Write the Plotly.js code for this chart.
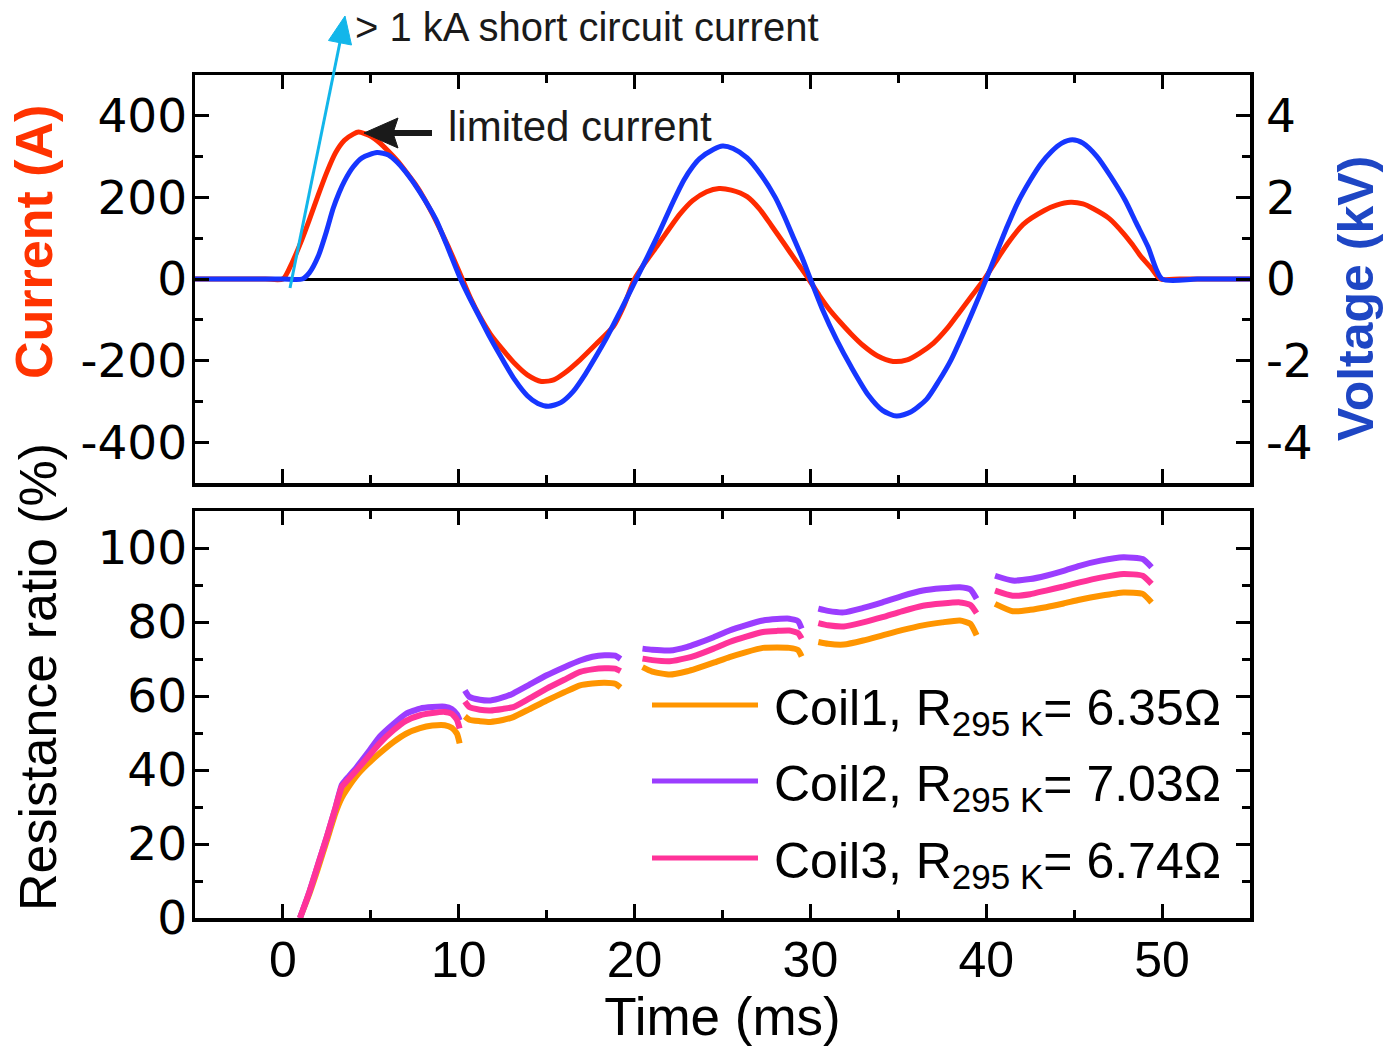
<!DOCTYPE html>
<html>
<head>
<meta charset="utf-8">
<script src="https://cdn.plot.ly/plotly-3.0.1.min.js"></script>
<style>html,body{margin:0;padding:0;background:#fff;}#chart{width:1386px;height:1050px;}</style>
</head>
<body>
<div id="chart"></div>
<script>
// ---------- Data ----------
// Top panel: current (A) vs time (ms)
const time_current = [-5, -3, -1, 0, 0.5, 1.0, 1.5, 2.0, 2.5, 3.0, 3.5, 4.0, 4.3, 5.0, 5.5, 6.0, 6.5, 7.0, 7.5, 8.0, 8.5, 9.0, 9.5, 10.2,
  10.7, 11.2, 11.8, 12.5, 13.2, 13.9, 14.7, 15.4, 16.0, 16.9, 17.8, 18.8, 19.4, 20.0,
  20.6, 21.3, 22.0, 22.6, 23.3, 24.1, 24.8, 25.5, 26.4, 27.1, 27.8, 28.5, 29.2, 29.9,
  30.5, 31.1, 31.7, 32.3, 33.0, 33.8, 34.7, 35.5, 36.2, 37.0, 37.8, 38.5, 39.2, 39.9,
  40.5, 41.2, 42.1, 43.3, 44.0, 44.8, 45.5, 46.1, 47.0, 47.8, 48.3, 48.8, 49.4, 49.9, 51, 53, 55];
const current_A = [0, 0, 0, 0, 38, 88, 145, 205, 262, 310, 340, 355, 360, 350, 334, 313, 290, 263, 234, 200, 160, 116, 70, 0,
  -50, -92, -135, -173, -208, -235, -251, -247, -231, -198, -160, -116, -65, 0,
  40, 82, 125, 160, 192, 214, 222, 218, 202, 172, 130, 87, 43, 0,
  -40, -76, -106, -134, -163, -188, -202, -198, -182, -157, -120, -80, -40, 0,
  40, 86, 134, 168, 181, 188, 184, 172, 148, 112, 85, 55, 26, 0, 0, 0, 0];

// Top panel: voltage (kV) vs time (ms)
const time_voltage = [-5, -2, 0, 1.1, 1.5, 2.0, 2.5, 2.85, 3.2, 3.5, 4.0, 4.5, 5.35, 6.0, 6.5, 7.2, 7.8, 8.7, 9.3, 10.1,
  10.6, 11.2, 11.8, 12.5, 13.2, 13.9, 14.5, 15.1, 15.8, 16.5, 17.2, 17.8, 18.4, 19.2, 20.1,
  20.7, 21.3, 22.2, 22.8, 23.3, 23.7, 24.5, 25.0, 25.6, 26.4, 27.2, 28.0, 28.5, 29.0, 29.5, 30.0,
  30.7, 31.5, 32.3, 33.3, 34.1, 34.9, 35.7, 36.6, 37.3, 38.0, 38.6, 39.2, 40.0,
  40.6, 41.2, 41.8, 42.5, 43.1, 43.7, 44.3, 44.9, 45.5, 46.3, 47.1, 47.9, 48.5, 49.2, 50.0, 52, 55];
const voltage_kV = [0, 0, 0, 0, 0.15, 0.55, 1.2, 1.72, 2.12, 2.4, 2.75, 2.97, 3.1, 3.04, 2.86, 2.5, 2.12, 1.46, 0.85, 0,
  -0.45, -0.95, -1.45, -1.98, -2.48, -2.86, -3.05, -3.12, -3.03, -2.76, -2.33, -1.9, -1.45, -0.78, 0,
  0.52, 1.05, 1.9, 2.42, 2.75, 2.95, 3.18, 3.26, 3.2, 2.97, 2.55, 2.0, 1.55, 1.05, 0.55, 0,
  -0.76, -1.5, -2.14, -2.85, -3.22, -3.36, -3.26, -2.95, -2.5, -1.98, -1.42, -0.83, 0,
  0.66, 1.3, 1.88, 2.42, 2.82, 3.12, 3.33, 3.41, 3.33, 3.0, 2.5, 1.93, 1.4, 0.79, 0, 0, 0];

// Bottom panel: resistance ratio (%) vs time (ms); null separates the half-cycle segments
const time_coil = [0.97, 1.5, 2.0, 2.5, 3.0, 3.35, 3.6, 4.2, 4.8, 5.5, 6.3, 7.0, 7.8, 8.5, 9.2, 9.6, 9.9, 10.05, null,
  10.35, 10.6, 11.2, 11.8, 12.5, 13.1, 14.0, 15.0, 16.0, 16.9, 17.6, 18.3, 18.9, 19.2, null,
  20.45, 21.0, 22.0, 23.0, 23.5, 24.5, 25.4, 26.3, 27.3, 28.1, 28.8, 29.3, 29.5, null,
  30.45, 31.0, 31.9, 33.0, 34.1, 35.2, 36.4, 37.5, 38.5, 39.1, 39.45, null,
  40.5, 41.5, 42.5, 43.4, 44.4, 45.3, 46.5, 47.8, 48.9, 49.4];
const coil1_ratio = [0, 6.5, 13.5, 21, 28.5, 32.5, 34.5, 38.5, 41.5, 44.5, 47.6, 49.8, 51.3, 52.0, 52.1, 51.4, 49.8, 47.2, null,
  54.5, 53.6, 53.2, 53.0, 53.5, 54.3, 56.4, 58.8, 61.0, 62.9, 63.4, 63.6, 63.3, 62.3, null,
  67.8, 66.6, 65.8, 66.7, 67.4, 69.0, 70.5, 71.8, 73.0, 73.1, 73.0, 72.4, 70.7, null,
  74.6, 74.1, 73.9, 75.0, 76.4, 77.8, 79.1, 79.9, 80.4, 79.5, 76.4, null,
  84.9, 82.9, 83.3, 84.0, 85.0, 86.0, 87.1, 88.0, 87.6, 85.3];
const coil2_ratio = [0, 7, 14.5, 22, 30, 36, 37.5, 40.8, 44.5, 49, 52.5, 55.2, 56.6, 57.0, 57.1, 56.5, 55, 53.4, null,
  61.5, 59.8, 59.0, 58.8, 59.6, 60.7, 63.0, 65.6, 67.8, 69.6, 70.6, 71.0, 70.9, 70.0, null,
  72.8, 72.5, 72.3, 73.3, 74.1, 75.9, 77.7, 79.1, 80.4, 80.8, 80.9, 80.2, 78.2, null,
  83.6, 83.0, 82.6, 83.8, 85.3, 87.0, 88.5, 89.1, 89.4, 88.8, 86.3, null,
  92.5, 91.2, 91.6, 92.5, 93.8, 95.2, 96.6, 97.5, 97.0, 94.8];
const coil3_ratio = [0, 7, 14.5, 22, 30, 35.5, 36.8, 40, 43.3, 47.2, 50.8, 53.3, 54.8, 55.4, 55.7, 55.2, 53.5, 51.2, null,
  58.5, 57.0, 56.3, 56.1, 56.5, 57.0, 59.3, 62.0, 64.4, 66.5, 67.2, 67.5, 67.4, 66.7, null,
  70.1, 69.7, 69.4, 70.3, 71.0, 72.8, 74.6, 76.0, 77.3, 77.6, 77.7, 77.0, 75.5, null,
  79.7, 79.1, 78.8, 79.9, 81.3, 82.9, 84.4, 85.0, 85.3, 84.6, 82.4, null,
  88.5, 87.1, 87.5, 88.5, 89.6, 90.7, 92.0, 93.0, 92.5, 90.3];

const coil_names = ['Coil1', 'Coil2', 'Coil3'];
const coil_r295 = ['6.35', '7.03', '6.74'];

// Tick labels
const current_ticks = [-400, -200, 0, 200, 400];
const current_tick_labels = ['-400', '-200', '0', '200', '400'];
const voltage_ticks = [-4, -2, 0, 2, 4];
const voltage_tick_labels = ['-4', '-2', '0', '2', '4'];
const ratio_ticks = [0, 20, 40, 60, 80, 100];
const ratio_tick_labels = ['0', '20', '40', '60', '80', '100'];
const time_ticks = [0, 10, 20, 30, 40, 50];
const time_tick_labels = ['0', '10', '20', '30', '40', '50'];

// ---------- Styling ----------
const W = 1386, H = 1050;
const px = v => v / W;          // pixel -> paper x
const py = v => 1 - v / H;      // pixel -> paper y
const SANS = 'Liberation Sans, Arial, Helvetica, sans-serif';
const WIDE = 'DejaVu Sans, Verdana, sans-serif';
const COL = {current: '#ff2a00', voltage: '#1636ff', coil1: '#ff9500', coil2: '#9b3dff', coil3: '#ff3399', arrow: '#12b6ea'};

const xDom = [px(195), px(1250)];
const topDom = [py(483), py(75)];
const botDom = [py(918), py(511)];

const axisCommon = {
  showline: true, linecolor: '#000', linewidth: 3.5,
  ticks: 'inside', ticklen: 14, tickwidth: 3, tickcolor: '#000',
  showgrid: false, zeroline: false
};

const traces = [
  {x: time_current, y: current_A, xaxis: 'x', yaxis: 'y', mode: 'lines', name: 'Current',
   line: {color: COL.current, width: 5, shape: 'spline', smoothing: 0.7}, showlegend: false, hoverinfo: 'skip'},
  {x: time_voltage, y: voltage_kV, xaxis: 'x', yaxis: 'y2', mode: 'lines', name: 'Voltage',
   line: {color: COL.voltage, width: 5, shape: 'spline', smoothing: 0.7}, showlegend: false, hoverinfo: 'skip'},
  {x: time_coil, y: coil1_ratio, xaxis: 'x2', yaxis: 'y3', mode: 'lines', name: coil_names[0], connectgaps: false,
   line: {color: COL.coil1, width: 6, shape: 'spline', smoothing: 0.5}, showlegend: false, hoverinfo: 'skip'},
  {x: time_coil, y: coil2_ratio, xaxis: 'x2', yaxis: 'y3', mode: 'lines', name: coil_names[1], connectgaps: false,
   line: {color: COL.coil2, width: 6, shape: 'spline', smoothing: 0.5}, showlegend: false, hoverinfo: 'skip'},
  {x: time_coil, y: coil3_ratio, xaxis: 'x2', yaxis: 'y3', mode: 'lines', name: coil_names[2], connectgaps: false,
   line: {color: COL.coil3, width: 6, shape: 'spline', smoothing: 0.5}, showlegend: false, hoverinfo: 'skip'}
];

const coilColors = [COL.coil1, COL.coil2, COL.coil3];
const legendRowsY = [705, 781, 858];

// legend sample lines
const shapes = legendRowsY.map((yy, i) => ({
  type: 'line', xref: 'paper', yref: 'paper', x0: px(652), x1: px(758), y0: py(yy), y1: py(yy),
  line: {color: coilColors[i], width: 5}
}));

// pointer arrows (decorations, in page pixels)
const P = (x, y) => px(x) + ',' + py(y);
shapes.push(
  {type: 'line', xref: 'paper', yref: 'paper', x0: px(432), y0: py(133), x1: px(392), y1: py(133),
   line: {color: '#1a1a1a', width: 6}},
  {type: 'path', xref: 'paper', yref: 'paper', path: 'M' + P(364, 133) + 'L' + P(398, 118) + 'L' + P(393, 133) + 'L' + P(398, 148) + 'Z',
   fillcolor: '#1a1a1a', line: {color: '#1a1a1a', width: 1}},
  {type: 'line', xref: 'paper', yref: 'paper', x0: px(290), y0: py(288), x1: px(340), y1: py(42),
   line: {color: COL.arrow, width: 3}},
  {type: 'path', xref: 'paper', yref: 'paper', path: 'M' + P(345, 16) + 'L' + P(351.5, 45) + 'L' + P(328.5, 40.5) + 'Z',
   fillcolor: COL.arrow, line: {color: COL.arrow, width: 1}}
);

const annotations = [
  // Axis titles
  {text: 'Current (A)', xref: 'paper', yref: 'paper', x: px(34), y: py(242), xanchor: 'center', yanchor: 'middle',
   textangle: -90, showarrow: false, font: {family: SANS, size: 52, color: '#ff3300', weight: 'bold'}},
  {text: 'Voltage (kV)', xref: 'paper', yref: 'paper', x: px(1356), y: py(299), xanchor: 'center', yanchor: 'middle',
   textangle: -90, showarrow: false, font: {family: SANS, size: 50, color: '#1e46c4', weight: 'bold'}},
  {text: 'Resistance ratio (%)', xref: 'paper', yref: 'paper', x: px(38), y: py(677), xanchor: 'center', yanchor: 'middle',
   textangle: -90, showarrow: false, font: {family: SANS, size: 52, color: '#000'}},
  // pointer texts
  {text: 'limited current', xref: 'paper', yref: 'paper', x: px(446), y: py(126), xanchor: 'left', yanchor: 'middle',
   showarrow: false, font: {family: SANS, size: 42, color: '#1a1a1a'}},
  {text: '> 1 kA short circuit current', xref: 'paper', yref: 'paper', x: px(353), y: py(27), xanchor: 'left', yanchor: 'middle',
   showarrow: false, font: {family: SANS, size: 40, color: '#1a1a1a'}}
];

// Legend texts
legendRowsY.forEach((yy, i) => {
  annotations.push({
    text: coil_names[i] + ', R<sub>295 K</sub>= ' + coil_r295[i] + 'Ω',
    xref: 'paper', yref: 'paper', x: px(772), y: py(yy + 6), xanchor: 'left', yanchor: 'middle', showarrow: false,
    font: {family: SANS, size: 50, color: '#000'}
  });
});

const layout = {
  width: W, height: H,
  margin: {l: 0, r: 0, t: 0, b: 0, pad: 0},
  paper_bgcolor: '#fff', plot_bgcolor: 'rgba(0,0,0,0)',
  showlegend: false,
  xaxis: Object.assign({}, axisCommon, {
    domain: xDom, anchor: 'y', range: [-5, 55], tickmode: 'array', tickvals: time_ticks, ticktext: time_tick_labels,
    showticklabels: false, mirror: 'ticks',
    minor: {dtick: 5, tick0: 0, ticks: 'inside', ticklen: 8, tickwidth: 3, tickcolor: '#000', showgrid: false}
  }),
  yaxis: Object.assign({}, axisCommon, {
    domain: topDom, anchor: 'x', range: [-500, 500], tickmode: 'array', tickvals: current_ticks, ticktext: current_tick_labels,
    zeroline: true, zerolinecolor: '#000', zerolinewidth: 3, ticklabelstandoff: -5,
    tickfont: {family: WIDE, size: 47, color: '#000'},
    minor: {dtick: 100, tick0: 0, ticks: 'inside', ticklen: 8, tickwidth: 3, tickcolor: '#000', showgrid: false}
  }),
  yaxis2: Object.assign({}, axisCommon, {
    overlaying: 'y', side: 'right', anchor: 'x', range: [-5, 5], tickmode: 'array', tickvals: voltage_ticks, ticktext: voltage_tick_labels,
    ticklabelstandoff: 3, tickfont: {family: WIDE, size: 47, color: '#000'},
    minor: {dtick: 1, tick0: 0, ticks: 'inside', ticklen: 8, tickwidth: 3, tickcolor: '#000', showgrid: false}
  }),
  xaxis2: Object.assign({}, axisCommon, {
    domain: xDom, anchor: 'y3', range: [-5, 55], tickmode: 'array', tickvals: time_ticks, ticktext: time_tick_labels,
    mirror: 'ticks', ticklabelstandoff: -5, tickfont: {family: SANS, size: 50, color: '#000'},
    title: {text: 'Time (ms)', font: {family: SANS, size: 53, color: '#000'}, standoff: 12},
    minor: {dtick: 5, tick0: 0, ticks: 'inside', ticklen: 8, tickwidth: 3, tickcolor: '#000', showgrid: false}
  }),
  yaxis3: Object.assign({}, axisCommon, {
    domain: botDom, anchor: 'x2', range: [0, 110], tickmode: 'array', tickvals: ratio_ticks, ticktext: ratio_tick_labels,
    mirror: 'ticks', ticklabelstandoff: -5, tickfont: {family: WIDE, size: 47, color: '#000'},
    minor: {dtick: 10, tick0: 0, ticks: 'inside', ticklen: 8, tickwidth: 3, tickcolor: '#000', showgrid: false}
  }),
  shapes: shapes,
  annotations: annotations
};

Plotly.newPlot('chart', traces, layout, {staticPlot: true, displayModeBar: false});
</script>
</body>
</html>
